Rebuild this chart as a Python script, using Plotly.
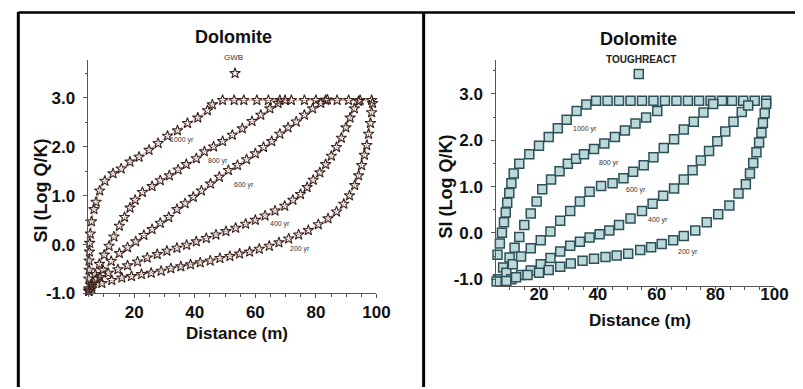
import plotly.graph_objects as go

# ---------------- data ----------------
# Left panel: GWB
G1000_X = [5.0, 5.0, 5.1, 5.1, 5.2, 5.3, 5.5, 5.9, 6.7, 7.4, 8.6, 10.3, 13.0, 15.7, 18.6, 21.6, 24.9,
           27.9, 31.0, 34.3, 37.6, 41.0, 44.2, 45.8, 49.2, 53.0, 56.2, 60.5, 64.3, 68.1, 71.9, 76.2,
           80.0, 83.2, 87.0, 90.8, 94.6, 98.4]
G1000_Y = [-0.9, -0.7, -0.52, -0.33, -0.15, 0.03, 0.22, 0.47, 0.72, 0.87, 1.1, 1.3, 1.45, 1.55, 1.69,
           1.79, 1.93, 2.07, 2.22, 2.33, 2.48, 2.59, 2.74, 2.86, 2.95, 2.95, 2.95, 2.95, 2.95, 2.95,
           2.95, 2.95, 2.95, 2.95, 2.95, 2.95, 2.95, 2.95]
G800_X = [5.0, 5.8, 7.1, 8.5, 10.1, 11.7, 13.3, 15.1, 16.8, 18.6, 20.3, 22.7, 25.9, 28.6, 31.6, 34.5,
          37.2, 40.5, 43.2, 46.2, 49.2, 52.4, 55.7, 58.9, 61.8, 64.8, 67.5, 69.8]
G800_Y = [-0.95, -0.82, -0.61, -0.4, -0.21, -0.03, 0.16, 0.38, 0.56, 0.75, 0.91, 1.07, 1.19, 1.31,
          1.41, 1.53, 1.64, 1.76, 1.9, 2.0, 2.11, 2.24, 2.37, 2.52, 2.65, 2.78, 2.89, 2.95]
G600_X = [5.0, 6.0, 7.6, 9.7, 12.4, 15.1, 17.8, 20.5, 23.2, 25.9, 28.6, 31.4, 34.1, 36.8, 39.5, 42.2,
          45.2, 48.1, 51.1, 54.1, 57.1, 60.0, 62.7, 65.4, 68.1, 70.8, 73.5, 76.2, 78.9, 81.6, 83.8]
G600_Y = [-0.95, -0.85, -0.70, -0.52, -0.34, -0.18, -0.06, 0.06, 0.19, 0.31, 0.44, 0.56, 0.72, 0.84,
          0.97, 1.10, 1.24, 1.38, 1.52, 1.62, 1.74, 1.86, 1.99, 2.11, 2.26, 2.39, 2.51, 2.65, 2.78,
          2.89, 2.96]
G400_X = [5.0, 6.0, 8.7, 11.4, 14.6, 17.8, 21.1, 24.3, 27.6, 30.8, 34.1, 37.3, 40.5, 43.8, 47.0, 50.3,
          53.5, 56.8, 60.0, 63.2, 66.5, 69.7, 72.4, 74.9, 77.1, 79.1, 81.3, 83.2, 85.1, 86.8, 88.4,
          89.9, 91.3, 92.7, 94.1]
G400_Y = [-0.95, -0.81, -0.67, -0.58, -0.51, -0.43, -0.35, -0.27, -0.20, -0.13, -0.07, -0.01, 0.06,
          0.13, 0.20, 0.27, 0.34, 0.42, 0.50, 0.59, 0.69, 0.79, 0.91, 1.03, 1.17, 1.32, 1.47, 1.64,
          1.81, 1.99, 2.18, 2.39, 2.59, 2.78, 2.93]
G200_X = [5.0, 6.0, 9.3, 12.6, 15.9, 19.1, 22.4, 25.6, 28.9, 32.1, 35.4, 38.6, 41.8, 45.1, 48.3, 51.6,
          54.8, 58.1, 61.3, 64.6, 67.8, 71.0, 74.3, 77.5, 80.8, 84.0, 86.8, 89.2, 91.1, 92.8, 94.1,
          95.1, 96.0, 96.8, 97.4, 98.0, 98.4, 98.7]
G200_Y = [-0.95, -0.90, -0.79, -0.73, -0.68, -0.65, -0.61, -0.58, -0.54, -0.49, -0.45, -0.41, -0.37,
          -0.33, -0.28, -0.24, -0.19, -0.15, -0.09, -0.03, 0.04, 0.12, 0.20, 0.29, 0.41, 0.53, 0.67,
          0.83, 1.0, 1.21, 1.41, 1.62, 1.83, 2.03, 2.26, 2.48, 2.70, 2.89]

# Right panel: TOUGHREACT
T1000_X = [5.0, 5.3, 5.9, 6.7, 7.4, 8.1, 8.7, 9.2, 9.9, 10.6, 11.4, 13.3, 16.7, 20.0, 23.3, 26.4, 29.4,
           32.8, 36.1, 39.4, 43.3, 47.2, 51.1, 55.0, 58.9, 62.8, 66.7, 70.6, 74.4, 78.3, 82.2, 85.6,
           89.4, 93.3, 97.2]
T1000_Y = [-1.0, -0.75, -0.47, -0.23, 0.0, 0.23, 0.44, 0.65, 0.86, 1.07, 1.28, 1.49, 1.70, 1.88, 2.07,
           2.26, 2.44, 2.63, 2.77, 2.85, 2.85, 2.85, 2.85, 2.85, 2.85, 2.85, 2.85, 2.85, 2.85, 2.85,
           2.85, 2.85, 2.85, 2.85, 2.85]
T800_X = [6.1, 7.8, 10.0, 11.7, 13.3, 15.0, 17.2, 19.2, 21.1, 24.1, 27.0, 29.8, 32.6, 35.3, 38.7, 42.2,
          45.8, 49.2, 52.8, 56.4, 60.2]
T800_Y = [-1.0, -0.75, -0.53, -0.32, -0.09, 0.17, 0.42, 0.68, 0.94, 1.15, 1.33, 1.49, 1.60, 1.70, 1.81,
          1.93, 2.07, 2.21, 2.36, 2.49, 2.63]
T600_X = [6.7, 8.9, 11.1, 13.9, 17.2, 20.6, 23.9, 27.2, 30.6, 33.9, 37.2, 41.1, 45.0, 48.7, 52.0, 55.6,
          58.9, 62.4, 65.9, 69.2, 72.6, 75.9, 79.2]
T600_Y = [-1.0, -0.86, -0.68, -0.51, -0.33, -0.16, 0.03, 0.26, 0.47, 0.68, 0.89, 1.01, 1.07, 1.18, 1.32,
          1.46, 1.63, 1.83, 2.02, 2.23, 2.40, 2.60, 2.78]
T400_X = [7.2, 10.6, 13.9, 17.2, 20.6, 23.9, 27.2, 30.6, 33.9, 37.2, 40.6, 43.9, 47.2, 51.1, 55.0, 58.6,
          62.2, 65.9, 69.2, 72.2, 75.0, 77.8, 80.6, 83.3, 86.1, 88.9, 91.1]
T400_Y = [-1.05, -1.0, -0.91, -0.81, -0.68, -0.54, -0.40, -0.28, -0.19, -0.10, -0.03, 0.05, 0.17, 0.31,
          0.47, 0.63, 0.80, 0.96, 1.15, 1.35, 1.56, 1.77, 1.98, 2.19, 2.40, 2.61, 2.75]
T200_X = [5.6, 8.9, 12.2, 16.1, 20.0, 23.3, 27.2, 30.8, 34.8, 38.7, 42.6, 46.4, 50.3, 54.4, 58.1, 61.7,
          65.6, 69.2, 73.1, 77.0, 80.9, 84.7, 87.8, 90.3, 91.7, 92.8, 93.9, 94.8, 95.6, 96.1, 96.7, 97.2]
T200_Y = [-1.05, -1.04, -0.96, -0.91, -0.86, -0.80, -0.73, -0.66, -0.60, -0.56, -0.52, -0.49, -0.45,
          -0.37, -0.31, -0.24, -0.16, -0.07, 0.05, 0.23, 0.40, 0.59, 0.85, 1.05, 1.28, 1.51, 1.74, 1.95,
          2.16, 2.37, 2.58, 2.79]

TIME_LABELS = ["1000 yr", "800 yr", "600 yr", "400 yr", "200 yr"]
GWB_LABEL_X = [35.7, 47.6, 56.2, 68.1, 74.6]
GWB_LABEL_Y = [2.14, 1.71, 1.21, 0.41, -0.10]
TR_LABEL_X = [35.6, 43.9, 52.8, 60.6, 70.6]
TR_LABEL_Y = [2.25, 1.51, 0.93, 0.28, -0.42]

LEGEND_GWB = (53.3, 3.5)
LEGEND_TR = (53.9, 3.43)

X_TICKS = [20, 40, 60, 80, 100]
X_TICKTEXT = ["20", "40", "60", "80", "100"]
Y_TICKS = [-1, 0, 1, 2, 3]
Y_TICKTEXT = ["-1.0", "0.0", "1.0", "2.0", "3.0"]

# ---------------- figure ----------------
W, H = 803, 389
FONT = "Liberation Sans, Arial, sans-serif"

fig = go.Figure()

star_marker = dict(symbol="star-open", size=8, color="#3d2620", line=dict(width=1.1, color="#3d2620"))
sq_marker = dict(symbol="square", size=9, color="#bcd9da", line=dict(width=1.5, color="#2d5058"))

gwb_series = [(G1000_X, G1000_Y), (G800_X, G800_Y), (G600_X, G600_Y), (G400_X, G400_Y), (G200_X, G200_Y)]
tr_series = [(T1000_X, T1000_Y), (T800_X, T800_Y), (T600_X, T600_Y), (T400_X, T400_Y), (T200_X, T200_Y)]

for name, (xs, ys) in zip(TIME_LABELS, gwb_series):
    fig.add_trace(go.Scatter(x=xs, y=ys, mode="lines+markers", name="GWB " + name,
                             line=dict(color="#b07a6a", width=0.7), marker=star_marker,
                             xaxis="x", yaxis="y", cliponaxis=False, showlegend=False))
for name, (xs, ys) in zip(TIME_LABELS, tr_series):
    fig.add_trace(go.Scatter(x=xs, y=ys, mode="markers", name="TOUGHREACT " + name,
                             marker=sq_marker, xaxis="x2", yaxis="y2", cliponaxis=False,
                             showlegend=False))

# legend-like symbols under the subtitles
fig.add_trace(go.Scatter(x=[LEGEND_GWB[0]], y=[LEGEND_GWB[1]], mode="markers", marker=star_marker,
                         xaxis="x", yaxis="y", cliponaxis=False, showlegend=False))
fig.add_trace(go.Scatter(x=[LEGEND_TR[0]], y=[LEGEND_TR[1]], mode="markers", marker=sq_marker,
                         xaxis="x2", yaxis="y2", cliponaxis=False, showlegend=False))

tickfont = dict(family=FONT, size=17, color="#111", weight="bold")
axis_common = dict(showline=True, linecolor="#555", linewidth=1, ticks="outside",
                   tickcolor="#555", showgrid=False, zeroline=False, tickfont=tickfont,
                   tickmode="array")

fig.update_layout(
    width=W, height=H,
    margin=dict(l=0, r=0, t=0, b=0),
    paper_bgcolor="white", plot_bgcolor="white",
    xaxis=dict(domain=[81 / W, 375 / W], range=[4.6, 100], tickvals=X_TICKS, ticktext=X_TICKTEXT,
               anchor="y", ticklen=4, ticklabelstandoff=-1,
               minor=dict(tick0=0, dtick=5, ticks="outside", ticklen=3, tickcolor="#555"),
               **axis_common),
    yaxis=dict(domain=[1 - 293 / H, 1 - 53 / H], range=[-1.0, 3.78], tickvals=Y_TICKS,
               ticktext=Y_TICKTEXT, anchor="x", ticklen=4, ticklabelstandoff=4,
               minor=dict(tick0=0, dtick=0.5, ticks="outside", ticklen=2, tickcolor="#555"),
               **axis_common),
    xaxis2=dict(domain=[497 / W, 780 / W], range=[5.5, 100], tickvals=X_TICKS, ticktext=X_TICKTEXT,
                anchor="y2", ticklen=3, ticklabelstandoff=-10,
                minor=dict(tick0=0, dtick=5, ticks="outside", ticklen=3, tickcolor="#555"),
                **axis_common),
    yaxis2=dict(domain=[1 - 285 / H, 1 - 53 / H], range=[-1.14, 3.74], tickvals=Y_TICKS,
                ticktext=Y_TICKTEXT, anchor="x2", ticklen=4, ticklabelstandoff=5,
                minor=dict(tick0=0, dtick=0.5, ticks="outside", ticklen=2, tickcolor="#555"),
                **axis_common),
)

ann = []
# time labels on the curves
for t, x, y in zip(TIME_LABELS, GWB_LABEL_X, GWB_LABEL_Y):
    ann.append(dict(x=x, y=y, xref="x", yref="y", text=t, showarrow=False,
                    font=dict(family=FONT, size=7, color="#333")))
for t, x, y in zip(TIME_LABELS, TR_LABEL_X, TR_LABEL_Y):
    ann.append(dict(x=x, y=y, xref="x2", yref="y2", text=t, showarrow=False,
                    font=dict(family=FONT, size=7, color="#333")))

def pa(text, px, py, size, weight="bold", angle=0, color="#111"):
    return dict(x=px / W, y=1 - py / H, xref="paper", yref="paper", text=text, showarrow=False,
                textangle=angle, xanchor="center", yanchor="middle",
                font=dict(family=FONT, size=size, color=color, weight=weight))

ann += [
    pa("Dolomite", 230, 30, 18),
    pa("GWB", 229, 51, 8, weight="normal", color="#333"),
    pa("Distance (m)", 233, 334, 17),
    pa("SI (Log Q/K)", 34, 187, 18, angle=-90),
    pa("Dolomite", 642, 32, 18),
    pa("TOUGHREACT", 644, 53, 10, color="#222"),
    pa("Distance (m)", 643, 321, 17),
    pa("SI (Log Q/K)", 446, 183, 18, angle=-90),
]
fig.update_layout(annotations=ann)

# frame lines of the scanned figure
frame = dict(type="line", xref="paper", yref="paper", line=dict(color="black", width=3))
fig.update_layout(shapes=[
    dict(frame, x0=10.5 / W, x1=10.5 / W, y0=0, y1=1 - 4 / H),
    dict(frame, x0=10.5 / W, x1=801 / W, y0=1 - 4.5 / H, y1=1 - 4.5 / H, line=dict(color="black", width=2.5)),
    dict(frame, x0=423 / W, x1=423 / W, y0=0, y1=1 - 4 / H),
])

fig.write_html("out.html")
